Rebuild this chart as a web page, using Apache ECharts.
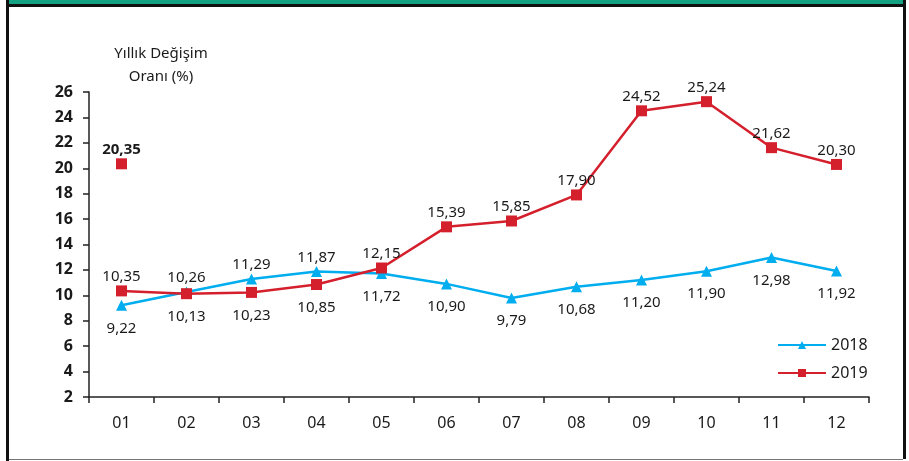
<!DOCTYPE html>
<html>
<head>
<meta charset="utf-8">
<script src="https://cdn.jsdelivr.net/npm/echarts@6/dist/echarts.min.js"></script>
<style>
  html, body { margin: 0; padding: 0; background: #fff; }
  #wrap { position: relative; width: 909px; height: 461px; overflow: hidden; }
  #chart { position: absolute; left: 0; top: 0; width: 909px; height: 461px; }
  .bar-green { position: absolute; left: 9px; top: 0; width: 894px; height: 4px; background: #13a383; }
  .bar-black { position: absolute; left: 6px; top: 4px; width: 900px; height: 3px; background: #111; }
  .side-l { position: absolute; left: 6px; top: 0; width: 3px; height: 461px; background: #111; }
  .side-r { position: absolute; left: 903px; top: 0; width: 3px; height: 459px; background: #111; }
  .bottom { position: absolute; left: 9px; top: 459px; width: 894px; height: 1px; background: #777; }
</style>
</head>
<body>
<div id="wrap">
  <div id="chart"></div>
  <div class="bar-green"></div>
  <div class="bar-black"></div>
  <div class="side-l"></div>
  <div class="side-r"></div>
  <div class="bottom"></div>
</div>
<script>
// Months
const months = ['01', '02', '03', '04', '05', '06', '07', '08', '09', '10', '11', '12'];
// Annual change rates (%)
const rates2018 = [9.22, 10.26, 11.29, 11.87, 11.72, 10.90, 9.79, 10.68, 11.20, 11.90, 12.98, 11.92];
const rates2019 = [10.35, 10.13, 10.23, 10.85, 12.15, 15.39, 15.85, 17.90, 24.52, 25.24, 21.62, 20.30];
// Label side for each month (true = above the point)
const above2018 = [false, true, true, true, false, false, false, false, false, false, false, false];
const above2019 = [true, false, false, false, true, true, true, true, true, true, true, true];
// Single highlighted value shown in January
const highlightValue = 20.35;
const highlightMonth = '01';

const fmt = v => v.toFixed(2).replace('.', ',');
const FONT = '"Noto Sans", "Open Sans", sans-serif';
const BLUE = '#00adef';
const RED = '#d4202c';

const toItems = (vals, aboveArr) => vals.map((v, i) => ({
  value: v,
  label: aboveArr[i] ? { position: 'top', distance: 1 } : { position: 'bottom', distance: 10 }
}));

const labelBase = { show: true, fontFamily: FONT, fontSize: 15, color: '#1a1a1a', formatter: p => fmt(p.value) };

const chart = echarts.init(document.getElementById('chart'), null, { renderer: 'canvas' });
chart.setOption({
  animation: false,
  textStyle: { fontFamily: FONT },
  grid: { left: 89, right: 40, top: 92, bottom: 64, containLabel: false, outerBoundsMode: 'none' },
  graphic: [{
    type: 'text',
    x: 161,
    y: 42,
    style: {
      text: 'Yıllık Değişim\nOranı (%)',
      font: '15px ' + FONT,
      fill: '#1a1a1a',
      align: 'center',
      verticalAlign: 'top',
      lineHeight: 23
    }
  }],
  legend: {
    orient: 'vertical',
    left: 772,
    top: 332,
    itemWidth: 48,
    itemHeight: 10,
    itemGap: 12,
    textStyle: { fontFamily: FONT, fontSize: 16, color: '#1a1a1a' },
    data: ['2018', '2019']
  },
  xAxis: {
    type: 'category',
    data: months,
    boundaryGap: true,
    axisLine: { lineStyle: { color: '#222', width: 1.5 } },
    axisTick: { show: true, length: 6, inside: false, lineStyle: { color: '#222', width: 1.5 } },
    axisLabel: { fontFamily: FONT, fontSize: 16, color: '#1a1a1a', margin: 18 },
    splitLine: { show: false }
  },
  yAxis: {
    type: 'value',
    min: 2,
    max: 26,
    interval: 2,
    axisLine: { show: true, lineStyle: { color: '#222', width: 1.5 } },
    axisTick: { show: true, length: 6, lineStyle: { color: '#222', width: 1.5 } },
    axisLabel: { fontFamily: FONT, fontSize: 16, fontWeight: 'bold', color: '#1a1a1a', margin: 16 },
    splitLine: { show: false }
  },
  series: [
    {
      name: '2018',
      type: 'line',
      data: toItems(rates2018, above2018),
      symbol: 'triangle',
      symbolSize: 11,
      lineStyle: { color: BLUE, width: 2.5 },
      itemStyle: { color: BLUE },
      label: labelBase,
      z: 3
    },
    {
      name: '2019',
      type: 'line',
      data: toItems(rates2019, above2019),
      symbol: 'rect',
      symbolSize: 11,
      lineStyle: { color: RED, width: 2.5 },
      itemStyle: { color: RED },
      label: labelBase,
      z: 4
    },
    {
      name: 'highlight',
      type: 'scatter',
      data: [[highlightMonth, highlightValue]],
      symbol: 'rect',
      symbolSize: 11,
      itemStyle: { color: RED, opacity: 1 },
      label: {
        show: true,
        position: 'top',
        distance: 1,
        fontFamily: FONT,
        fontSize: 15,
        fontWeight: 'bold',
        color: '#1a1a1a',
        formatter: p => fmt(p.value[1])
      },
      z: 5
    }
  ]
});
</script>
</body>
</html>
